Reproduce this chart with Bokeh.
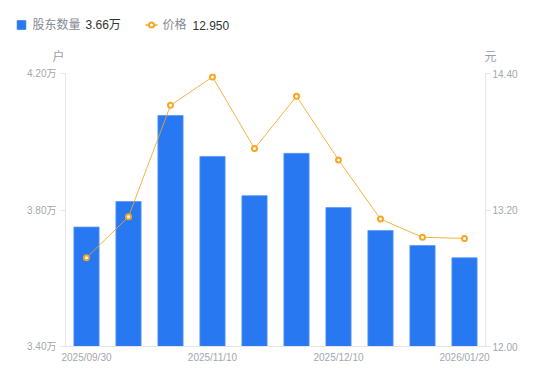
from bokeh.plotting import figure
from bokeh.models import Range1d, LinearAxis, FixedTicker, PrintfTickFormatter, ColumnDataSource
from bokeh.core.properties import value
from bokeh.embed import file_html
from bokeh.resources import INLINE

# ---- data ----
dates = ["2025/09/30", "2025/10/20", "2025/10/31", "2025/11/10", "2025/11/20",
         "2025/11/30", "2025/12/10", "2025/12/31", "2026/01/10", "2026/01/20"]
shares = [3.75, 3.825, 4.077, 3.957, 3.842, 3.966, 3.807, 3.74, 3.696, 3.66]   # 万户
prices = [12.78, 13.14, 14.12, 14.37, 13.74, 14.20, 13.64, 13.12, 12.96, 12.95]  # 元
shown_dates = ["2025/09/30", "2025/11/10", "2025/12/10", "2026/01/20"]
left_ticks = [3.4, 3.8, 4.2]
right_ticks = [12.0, 13.2, 14.4]

BLUE = "#2878F2"
ORANGE = "#F5A623"
TICK_COLOR = "#a3a7b0"
AXIS_COLOR = "#e3e5e8"
FONT = "Liberation Sans, Noto Sans CJK SC"

# ---- layout geometry (page pixels; page origin observed at 0,0) ----
W, H = 542, 373
BL, BR, BT, BB = 65, 57, 73, 27
FRAME_W = W - BL - BR
FRAME_H = H - BT - BB
n = len(dates)
x0, x1 = -0.5, n - 0.5
y0, y1 = left_ticks[0], left_ticks[-1]

def px(page_x):
    return x0 + (page_x - BL) * (x1 - x0) / FRAME_W

def py(page_y):
    return y0 + (BT + FRAME_H - page_y) * (y1 - y0) / FRAME_H

idx = list(range(n))
src = ColumnDataSource(dict(x=idx, share=shares, price=prices))

p = figure(width=W, height=H, x_range=Range1d(x0, x1), y_range=Range1d(y0, y1),
           toolbar_location=None, output_backend="svg",
           min_border_left=BL, min_border_right=BR, min_border_top=BT, min_border_bottom=BB,
           outline_line_color=None)
p.extra_y_ranges = {"price": Range1d(right_ticks[0], right_ticks[-1])}
p.grid.visible = False

p.vbar(x="x", top="share", bottom=y0, width=0.6, source=src,
       fill_color=BLUE, line_color="#5a97f5", line_width=0.8)
p.line(x="x", y="price", source=src, y_range_name="price", color=ORANGE, line_width=1,
       line_alpha=0.85)
p.scatter(x="x", y="price", source=src, y_range_name="price", size=5,
          line_color=ORANGE, fill_color="white", line_width=2)

# ---- header: legend + unit labels (drawn outside the frame, overlay level) ----
ly_ = py(24.5)
p.rect(x=[px(21)], y=[ly_], width=8.5, height=8.5, width_units="screen", height_units="screen",
       color=BLUE, level="overlay")
p.line(x=[px(145), px(157)], y=[ly_, ly_], color=ORANGE, line_width=1.5, level="overlay")
p.ellipse(x=[px(151)], y=[ly_], width=5, height=5, width_units="screen", height_units="screen",
          line_color=ORANGE, fill_color="white", line_width=2, level="overlay")
p.text(x=[px(32), px(162)], y=[ly_, ly_], text=["股东数量", "价格"], text_font=value(FONT),
       text_font_size="12px", text_color="#868b94", text_baseline="middle",
       text_align="left", level="overlay")
p.text(x=[px(85), px(192)], y=[ly_, ly_], text=[f"{shares[-1]:.2f}万", f"{prices[-1]:.3f}"],
       text_font=value(FONT), text_font_size="12px", text_color="#333333",
       text_baseline="middle", text_align="left", level="overlay")
p.text(x=[px(58), px(490)], y=[py(56.5), py(56.5)], text=["户", "元"], text_font=value(FONT),
       text_font_size="12px", text_color="#9a9ea7", text_baseline="middle",
       text_align="center", level="overlay")

def style(ax):
    ax.axis_line_color = AXIS_COLOR
    ax.major_tick_line_color = AXIS_COLOR
    ax.minor_tick_line_color = None
    ax.major_label_text_color = TICK_COLOR
    ax.major_label_text_font = FONT
    ax.major_label_text_font_size = "10px"

ly = p.yaxis[0]
ly.ticker = FixedTicker(ticks=left_ticks)
ly.formatter = PrintfTickFormatter(format="%.2f万")
style(ly)
ly.major_tick_in = 0
ly.major_tick_out = 5
ly.major_label_standoff = 4

ry = LinearAxis(y_range_name="price", ticker=FixedTicker(ticks=right_ticks),
                formatter=PrintfTickFormatter(format="%.2f"))
style(ry)
ry.major_tick_in = 0
ry.major_tick_out = 5
ry.major_label_standoff = 2
p.add_layout(ry, "right")

bx = p.xaxis[0]
tick_idx = [dates.index(d) for d in shown_dates]
bx.ticker = FixedTicker(ticks=tick_idx)
bx.major_label_overrides = {i: dates[i] for i in tick_idx}
style(bx)
bx.major_tick_in = 0
bx.major_tick_out = 0
bx.major_label_standoff = 5

open("out.html", "w").write(file_html(p, INLINE))
